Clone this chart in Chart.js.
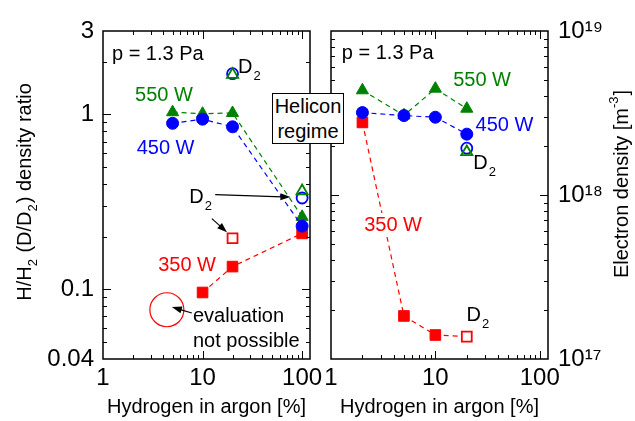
<!DOCTYPE html>
<html>
<head>
<meta charset="utf-8">
<script src="https://cdn.jsdelivr.net/npm/chart.js@4.4.0/dist/chart.umd.min.js"></script>
<style>
  body { margin: 0; background: #fff; }
  #wrap { position: relative; width: 635px; height: 421px; }
  #wrap canvas { position: absolute; left: 0; top: 0; }
  #helicon {
    position: absolute; left: 272px; top: 93px; width: 70px; height: 49px;
    border: 1px solid #000; background: #fff; z-index: 5;
    font: 20px "Liberation Sans", Arial, sans-serif; line-height: 25px; text-align: center;
  }
</style>
</head>
<body>
<div id="wrap">
  <canvas id="ratioChart" width="635" height="421"></canvas>
  <canvas id="densityChart" width="635" height="421"></canvas>
  <div id="helicon">Helicon<br>regime</div>
</div>
<script>
// left panel: H/H2 (D/D2) density ratio vs hydrogen in argon [%]
var ratioX550 = [5, 10, 20, 100];
var ratio550 = [1.03, 1.01, 1.02, 0.26];
var ratioX450 = [5, 10, 20, 100];
var ratio450 = [0.89, 0.94, 0.85, 0.23];
var ratioX350 = [10, 20, 100];
var ratio350 = [0.096, 0.135, 0.209];
// deuterium runs (open symbols)
var ratioXD2 = [20, 100];
var ratioD2_550 = [1.69, 0.365];
var ratioD2_450 = [1.71, 0.333];
var ratioXD2_350 = [20];
var ratioD2_350 = [0.196];

// right panel: electron density [m^-3]
var densX = [2, 5, 10, 20];
var dens550 = [4.35e18, 3.06e18, 4.45e18, 3.36e18];
var dens450 = [3.18e18, 3.05e18, 2.98e18, 2.35e18];
var dens350 = [2.77e18, 1.83e17, 1.40e17, 1.37e17]; // last point is D2
var densXD2 = [20];
var densD2_550 = [1.83e18];
var densD2_450 = [1.93e18];

// tick labels
var xTickLabels = [1, 10, 100];
var ratioTickLabels = [0.04, 0.1, 1, 3];
var densTickLabels = [1e17, 1e18, 1e19];

var GREEN = 'rgb(0,128,0)', BLUE = 'rgb(0,0,255)', RED = 'rgb(255,0,0)';
var FAMILY = '"Liberation Sans", Arial, Helvetica, sans-serif';
Chart.defaults.font.family = FAMILY;
Chart.defaults.color = '#000';

function pts(xs, ys) {
  return xs.map(function(x, i) { return {x: x, y: ys[i]}; });
}

// 1..9 x 10^e for each decade, used for the minor tick marks
function logTicks(lo, hi, min, max) {
  var out = [];
  for (var e = lo; e < hi; e++) {
    for (var d = 1; d < 10; d++) out.push(parseFloat((d * Math.pow(10, e)).toPrecision(3)));
  }
  out.push(Math.pow(10, hi));
  return out.filter(function(v) { return v >= min * 0.999 && v <= max * 1.001; });
}

function isMajor(v) {
  var l = Math.log10(v);
  return Math.abs(l - Math.round(l)) < 1e-6;
}

function filledSet(label, data, color, style, r) {
  return {
    label: label, data: data, showLine: true,
    borderColor: color, borderWidth: 1.2, borderDash: [5, 4],
    pointStyle: style, pointRadius: r, pointHoverRadius: r,
    pointBackgroundColor: color, pointBorderColor: color, pointBorderWidth: 1
  };
}

function openSet(label, data, color, style, r) {
  return {
    label: label, data: data, showLine: false,
    borderColor: color,
    pointStyle: style, pointRadius: r, pointHoverRadius: r,
    pointBackgroundColor: 'rgba(255,255,255,0)', pointBorderColor: color, pointBorderWidth: 1.8
  };
}

function drawLine(ctx, x1, y1, x2, y2) {
  ctx.beginPath(); ctx.moveTo(x1, y1); ctx.lineTo(x2, y2); ctx.stroke();
}

// box + inward tick marks on all four sides
var framePlugin = {
  id: 'frame',
  afterDraw: function(chart) {
    var ctx = chart.ctx, a = chart.chartArea;
    ctx.save();
    ctx.strokeStyle = '#000';
    ctx.lineWidth = 1;
    var xs = chart.scales.x, ys = chart.scales.y;
    xs.ticks.forEach(function(t) {
      var px = Math.round(xs.getPixelForValue(t.value)) + 0.5;
      if (px < a.left + 2 || px > a.right - 2) return;
      var len = isMajor(t.value) ? 8 : 4;
      drawLine(ctx, px, a.bottom, px, a.bottom - len);
      drawLine(ctx, px, a.top, px, a.top + len);
    });
    ys.ticks.forEach(function(t) {
      var py = Math.round(ys.getPixelForValue(t.value)) + 0.5;
      if (py < a.top + 2 || py > a.bottom - 2) return;
      var len = isMajor(t.value) ? 8 : 4;
      drawLine(ctx, a.left, py, a.left + len, py);
      drawLine(ctx, a.right, py, a.right - len, py);
    });
    ctx.lineWidth = 1.5;
    ctx.strokeRect(a.left, a.top, a.right - a.left, a.bottom - a.top);
    ctx.restore();
  }
};

function drawLabel(ctx, x, y, n) {
  ctx.textBaseline = 'middle';
  ctx.textAlign = 'left';
  ctx.font = '20px ' + FAMILY;
  var w = ctx.measureText(n.text).width, sw = 0;
  if (n.sub) { ctx.font = '13px ' + FAMILY; sw = ctx.measureText(n.sub).width + 1; }
  if (n.bg) { ctx.fillStyle = '#fff'; ctx.fillRect(x - 2, y - 12, w + sw + 4, 24); }
  ctx.fillStyle = n.color || '#000';
  ctx.font = '20px ' + FAMILY;
  ctx.fillText(n.text, x, y);
  if (n.sub) { ctx.font = '13px ' + FAMILY; ctx.fillText(n.sub, x + w + 1, y + 9); }
}

function drawArrow(ctx, x1, y1, x2, y2) {
  var ang = Math.atan2(y2 - y1, x2 - x1), L = 10, W = 3.5;
  ctx.strokeStyle = '#000'; ctx.fillStyle = '#000'; ctx.lineWidth = 1.2;
  drawLine(ctx, x1, y1, x2 - Math.cos(ang) * L * 0.8, y2 - Math.sin(ang) * L * 0.8);
  ctx.beginPath();
  ctx.moveTo(x2, y2);
  ctx.lineTo(x2 - Math.cos(ang) * L - Math.sin(ang) * W, y2 - Math.sin(ang) * L + Math.cos(ang) * W);
  ctx.lineTo(x2 - Math.cos(ang) * L + Math.sin(ang) * W, y2 - Math.sin(ang) * L - Math.cos(ang) * W);
  ctx.closePath();
  ctx.fill();
}

// text drawn rotated, with small raised/lowered parts
function drawRich(ctx, cx, cy, parts) {
  ctx.save();
  ctx.translate(cx, cy);
  ctx.rotate(-Math.PI / 2);
  ctx.textBaseline = 'middle';
  ctx.textAlign = 'left';
  ctx.fillStyle = '#000';
  var total = 0;
  parts.forEach(function(p) {
    ctx.font = (p.dy ? '13px ' : '20px ') + FAMILY;
    p.w = ctx.measureText(p.t).width + (p.dy ? 1 : 0);
    total += p.w;
  });
  var x = -total / 2;
  parts.forEach(function(p) {
    ctx.font = (p.dy ? '13px ' : '20px ') + FAMILY;
    ctx.fillText(p.t, x, p.dy || 0);
    x += p.w;
  });
  ctx.restore();
}

function notesPlugin(notes, title) {
  return {
    id: 'notes',
    afterDatasetsDraw: function(chart) {
      var ctx = chart.ctx, xs = chart.scales.x, ys = chart.scales.y;
      ctx.save();
      notes.forEach(function(n) {
        if (n.type === 'arrow') {
          drawArrow(ctx, xs.getPixelForValue(n.x1), ys.getPixelForValue(n.y1),
                    xs.getPixelForValue(n.x2), ys.getPixelForValue(n.y2));
        } else if (n.type === 'ring') {
          ctx.strokeStyle = n.color; ctx.lineWidth = 1.2;
          ctx.beginPath();
          ctx.arc(xs.getPixelForValue(n.x), ys.getPixelForValue(n.y), n.r, 0, Math.PI * 2);
          ctx.stroke();
        } else {
          drawLabel(ctx, xs.getPixelForValue(n.x), ys.getPixelForValue(n.y), n);
        }
      });
      ctx.restore();
      var a = chart.chartArea;
      drawRich(ctx, title.side === 'left' ? 25 : a.right + 74, (a.top + a.bottom) / 2 + title.dy, title.parts);
    }
  };
}

var ratioNotes = [
  {x: 1.23, y: 2.2, text: 'p = 1.3 Pa'},
  {x: 22.7, y: 1.86, text: 'D', sub: '2'},
  {x: 2.1, y: 1.28, text: '550 W', color: GREEN},
  {x: 2.18, y: 0.637, text: '450 W', color: BLUE},
  {x: 7.36, y: 0.337, text: 'D', sub: '2'},
  {type: 'arrow', x1: 13.4, y1: 0.348, x2: 76.3, y2: 0.337},
  {type: 'arrow', x1: 12.4, y1: 0.254, x2: 17.6, y2: 0.212},
  {x: 3.58, y: 0.137, text: '350 W', color: RED, bg: true},
  {type: 'ring', x: 4.38, y: 0.0765, r: 17, color: RED},
  {type: 'arrow', x1: 7.8, y1: 0.0733, x2: 4.92, y2: 0.0793},
  {x: 8.0, y: 0.0699, text: 'evaluation'},
  {x: 8.0, y: 0.0507, text: 'not possible'}
];

var densNotes = [
  {x: 1.27, y: 7.31e18, text: 'p = 1.3 Pa'},
  {x: 14.8, y: 5.02e18, text: '550 W', color: GREEN},
  {x: 24.3, y: 2.67e18, text: '450 W', color: BLUE},
  {x: 23.07, y: 1.56e18, text: 'D', sub: '2'},
  {x: 2.08, y: 6.56e17, text: '350 W', color: RED, bg: true},
  {x: 19.9, y: 1.85e17, text: 'D', sub: '2'}
];

function xScale() {
  return {
    type: 'logarithmic', min: 1, max: 120,
    afterBuildTicks: function(s) { s.ticks = logTicks(0, 2, 1, 120).map(function(v) { return {value: v}; }); },
    afterFit: function(s) { s.height = 62; },
    grid: {display: false, drawTicks: false},
    border: {display: false},
    ticks: {
      autoSkip: false, maxRotation: 0, minRotation: 0, padding: 5,
      font: {size: 24}, color: '#000',
      callback: function(v) { return xTickLabels.indexOf(v) >= 0 ? String(v) : ''; }
    },
    title: {display: true, text: 'Hydrogen in argon [%]', font: {size: 20}, color: '#000', padding: {top: 0, bottom: 2}}
  };
}

// dataset 0 is drawn on top
new Chart(document.getElementById('ratioChart'), {
  type: 'scatter',
  data: {
    datasets: [
      openSet('550 W D2', pts(ratioXD2, ratioD2_550), GREEN, 'triangle', 6.5),
      openSet('450 W D2', pts(ratioXD2, ratioD2_450), BLUE, 'circle', 5.5),
      openSet('350 W D2', pts(ratioXD2_350, ratioD2_350), RED, 'rect', 7),
      filledSet('450 W', pts(ratioX450, ratio450), BLUE, 'circle', 6),
      filledSet('550 W', pts(ratioX550, ratio550), GREEN, 'triangle', 7),
      filledSet('350 W', pts(ratioX350, ratio350), RED, 'rect', 7.5)
    ]
  },
  options: {
    responsive: false, animation: false, devicePixelRatio: 1,
    layout: {padding: {top: 31, right: 325, left: 0, bottom: 0}},
    plugins: {legend: {display: false}, tooltip: {enabled: false}},
    scales: {
      x: xScale(),
      y: {
        type: 'logarithmic', min: 0.04, max: 3,
        afterBuildTicks: function(s) { s.ticks = logTicks(-2, 1, 0.04, 3).map(function(v) { return {value: v}; }); },
        afterFit: function(s) { s.width = 103; },
        grid: {display: false, drawTicks: false},
        border: {display: false},
        ticks: {
          autoSkip: false, padding: 9, font: {size: 24}, color: '#000',
          callback: function(v) { return ratioTickLabels.indexOf(v) >= 0 ? String(v) : ''; }
        }
      }
    }
  },
  plugins: [framePlugin, notesPlugin(ratioNotes, {side: 'left', dy: -3, parts: [
    {t: 'H/H'}, {t: '2', dy: 8}, {t: ' (D/D'}, {t: '2', dy: 8}, {t: ') density ratio'}
  ]})]
});

var supDigits = {'7': '\u2077', '8': '\u2078', '9': '\u2079', '1': '\u00b9'};
function densLabel(v) {
  var e = String(Math.round(Math.log10(v)));
  return '10' + e.split('').map(function(c) { return supDigits[c]; }).join('');
}

new Chart(document.getElementById('densityChart'), {
  type: 'scatter',
  data: {
    datasets: [
      openSet('550 W D2', pts(densXD2, densD2_550), GREEN, 'triangle', 6.5),
      openSet('450 W D2', pts(densXD2, densD2_450), BLUE, 'circle', 5.5),
      filledSet('450 W', pts(densX, dens450), BLUE, 'circle', 6),
      filledSet('550 W', pts(densX, dens550), GREEN, 'triangle', 7),
      Object.assign(filledSet('350 W', pts(densX, dens350), RED, 'rect', 7.5), {
        pointBackgroundColor: [RED, RED, RED, '#fff'],
        pointBorderWidth: [1, 1, 1, 1.8],
        pointRadius: [7.5, 7.5, 7.5, 7]
      })
    ]
  },
  options: {
    responsive: false, animation: false, devicePixelRatio: 1,
    layout: {padding: {top: 31, right: 0, left: 331, bottom: 0}},
    plugins: {legend: {display: false}, tooltip: {enabled: false}},
    scales: {
      x: xScale(),
      y: {
        type: 'logarithmic', position: 'right', min: 1e17, max: 1e19,
        afterBuildTicks: function(s) { s.ticks = logTicks(17, 19, 1e17, 1e19).map(function(v) { return {value: v}; }); },
        afterFit: function(s) { s.width = 87; },
        grid: {display: false, drawTicks: false},
        border: {display: false},
        ticks: {
          autoSkip: false, padding: 10, font: {size: 24}, color: '#000',
          callback: function(v) { return densTickLabels.some(function(t) { return Math.abs(t / v - 1) < 1e-6; }) ? densLabel(v) : ''; }
        }
      }
    }
  },
  plugins: [framePlugin, notesPlugin(densNotes, {side: 'right', dy: -11, parts: [
    {t: 'Electron density [m'}, {t: '-3', dy: -8}, {t: ']'}
  ]})]
});
</script>
</body>
</html>
